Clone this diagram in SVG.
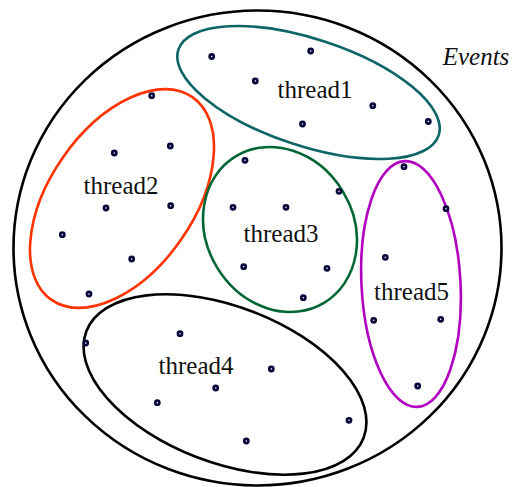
<svg xmlns="http://www.w3.org/2000/svg" width="512" height="487" viewBox="0 0 512 487">
  <style>
    .set { fill: none; stroke-width: 2.6; }
    .lbl { font-family: 'Liberation Serif', 'Times New Roman', 'DejaVu Serif', serif; font-size: 25px; fill: #111; text-anchor: middle; }
    .ev { fill: #fff; stroke: #06063c; stroke-width: 2.6; }
  </style>
  <defs>
    <circle id="ev" r="2.1" class="ev"/>
  </defs>
  <rect width="512" height="487" fill="#fff"/>

  <!-- universe of events -->
  <g id="events">
    <ellipse cx="257.5" cy="248" rx="244" ry="237.5" class="set" stroke="#000"/>
    <text x="476" y="65" class="lbl" font-style="italic">Events</text>
  </g>

  <g id="thread1">
    <ellipse cx="308.5" cy="92.5" rx="137" ry="53.5" transform="rotate(18.2 308.5 92.5)" class="set" stroke="#0d6565"/>
    <text x="315" y="98" class="lbl">thread1</text>
    <use href="#ev" x="211.7" y="56.5"/>
    <use href="#ev" x="310.7" y="51"/>
    <use href="#ev" x="255.3" y="81"/>
    <use href="#ev" x="372.8" y="105.7"/>
    <use href="#ev" x="302.5" y="124"/>
    <use href="#ev" x="428.3" y="121.5"/>
  </g>

  <g id="thread2">
    <ellipse cx="122" cy="198.5" rx="123.5" ry="72" transform="rotate(-55.2 122 198.5)" class="set" stroke="#ff3300"/>
    <text x="121" y="193.5" class="lbl">thread2</text>
    <use href="#ev" x="151.7" y="95.7"/>
    <use href="#ev" x="114.3" y="153"/>
    <use href="#ev" x="170.3" y="146"/>
    <use href="#ev" x="106" y="208"/>
    <use href="#ev" x="170.7" y="205.7"/>
    <use href="#ev" x="62.3" y="234.7"/>
    <use href="#ev" x="131.7" y="259"/>
    <use href="#ev" x="89" y="294"/>
  </g>

  <g id="thread3">
    <ellipse cx="280" cy="229.5" rx="85.5" ry="73.5" transform="rotate(58.7 280 229.5)" class="set" stroke="#006633"/>
    <text x="281" y="242" class="lbl">thread3</text>
    <use href="#ev" x="245" y="160.3"/>
    <use href="#ev" x="339" y="191.3"/>
    <use href="#ev" x="233" y="207.3"/>
    <use href="#ev" x="286" y="207.3"/>
    <use href="#ev" x="243.7" y="266.7"/>
    <use href="#ev" x="327" y="268.3"/>
    <use href="#ev" x="303.3" y="297.7"/>
  </g>

  <g id="thread4">
    <ellipse cx="225" cy="384.5" rx="148.5" ry="78" transform="rotate(21 225 384.5)" class="set" stroke="#000"/>
    <text x="196" y="373.5" class="lbl">thread4</text>
    <use href="#ev" x="180" y="333.7"/>
    <use href="#ev" x="85.7" y="343"/>
    <use href="#ev" x="271.3" y="369"/>
    <use href="#ev" x="215.7" y="388"/>
    <use href="#ev" x="157.3" y="402.7"/>
    <use href="#ev" x="349" y="420.3"/>
    <use href="#ev" x="246.3" y="441"/>
  </g>

  <g id="thread5">
    <ellipse cx="411" cy="284" rx="49.5" ry="123" transform="rotate(-3 411 284)" class="set" stroke="#b000c0"/>
    <text x="411.5" y="300" class="lbl">thread5</text>
    <use href="#ev" x="404" y="166.7"/>
    <use href="#ev" x="446" y="208.7"/>
    <use href="#ev" x="385.3" y="257.3"/>
    <use href="#ev" x="373.7" y="320.3"/>
    <use href="#ev" x="440.7" y="319.3"/>
    <use href="#ev" x="417.7" y="386"/>
  </g>

  <!-- no connectors in this figure -->
  <g id="connectors"/>
</svg>
